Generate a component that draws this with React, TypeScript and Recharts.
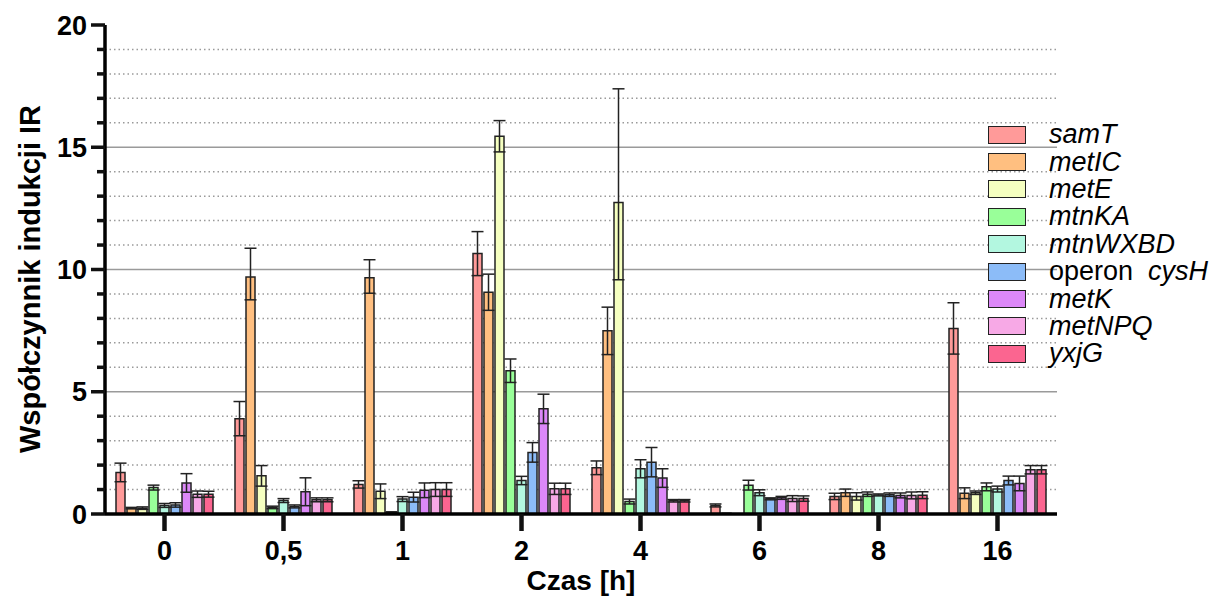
import React from 'react';
import { BarChart, Bar, XAxis, YAxis, CartesianGrid, ErrorBar, Label } from 'recharts';

const categories = ['0', '0,5', '1', '2', '4', '6', '8', '16'];

const samT = [1.7, 3.9, 1.21, 10.65, 1.89, 0.35, 0.72, 7.59];
const samTErr = [0.38, 0.7, 0.15, 0.9, 0.28, 0.06, 0.13, 1.05];
const metIC = [0.24, 9.69, 9.66, 9.07, 7.49, 0.03, 0.87, 0.85];
const metICErr = [0.03, [0.93, 1.18], [0.63, 0.74], 0.74, 0.97, 0, 0.15, 0.22];
const metE = [0.24, 1.56, 0.93, 15.45, 12.74, 0, 0.72, 0.87];
const metEErr = [0.05, 0.42, 0.3, 0.64, [3.16, 4.65], 0, 0.15, 0.07];
const mtnKA = [1.08, 0.27, 0.07, 5.86, 0.51, 1.18, 0.81, 1.11];
const mtnKAErr = [0.1, 0.05, 0.02, 0.48, 0.1, 0.2, 0.09, 0.16];
const mtnWXBD = [0.35, 0.55, 0.61, 1.37, 1.85, 0.87, 0.78, 1.02];
const mtnWXBDErr = [0.08, 0.08, 0.1, 0.17, 0.37, 0.12, 0.04, 0.12];
const cysH = [0.37, 0.31, 0.69, 2.52, 2.12, 0.62, 0.79, 1.37];
const cysHErr = [0.09, 0.06, 0.2, 0.4, 0.6, 0.04, 0.07, 0.18];
const metK = [1.27, 0.91, 0.97, 4.3, 1.47, 0.66, 0.76, 1.25];
const metKErr = [0.38, 0.57, 0.3, 0.6, 0.38, 0.06, 0.1, 0.3];
const metNPQ = [0.81, 0.58, 1.0, 1.03, 0.54, 0.63, 0.76, 1.81];
const metNPQErr = [0.13, 0.08, 0.28, 0.23, 0.05, 0.12, 0.14, 0.17];
const yxjG = [0.81, 0.58, 1.0, 1.03, 0.54, 0.63, 0.77, 1.81];
const yxjGErr = [0.12, 0.08, 0.28, 0.23, 0.05, 0.11, 0.14, 0.17];

const yTicks = [0, 1, 2, 3, 4, 5, 6, 7, 8, 9, 10, 11, 12, 13, 14, 15, 16, 17, 18, 19, 20];
const majorGrid = [5, 10, 15];
const minorGrid = [1, 2, 3, 4, 6, 7, 8, 9, 11, 12, 13, 14, 16, 17, 18, 19];

const series = [
  { key: 'samT', label: 'samT', color: '#ff9a99', values: samT, errors: samTErr },
  { key: 'metIC', label: 'metIC', color: '#ffbf80', values: metIC, errors: metICErr },
  { key: 'metE', label: 'metE', color: '#f5ffc0', values: metE, errors: metEErr },
  { key: 'mtnKA', label: 'mtnKA', color: '#99ff99', values: mtnKA, errors: mtnKAErr },
  { key: 'mtnWXBD', label: 'mtnWXBD', color: '#b3f7e0', values: mtnWXBD, errors: mtnWXBDErr },
  { key: 'cysH', label: 'operon cysH', color: '#8cbcf8', values: cysH, errors: cysHErr },
  { key: 'metK', label: 'metK', color: '#dc88f8', values: metK, errors: metKErr },
  { key: 'metNPQ', label: 'metNPQ', color: '#f7a9e6', values: metNPQ, errors: metNPQErr },
  { key: 'yxjG', label: 'yxjG', color: '#fb6590', values: yxjG, errors: yxjGErr },
];

const data = categories.map((cat, i) => {
  const row: any = { cat };
  series.forEach((s) => {
    row[s.key] = s.values[i];
    row[s.key + 'Err'] = s.errors[i];
  });
  return row;
});

const FONT = '"Liberation Sans", Arial, sans-serif';

const YTick = (props: any) => {
  const x = Number(props.x);
  const y = Number(props.y);
  const v = props.payload.value;
  const major = v % 5 === 0;
  const len = major ? 14 : 8;
  return (
    <g>
      <rect x={x - len} y={y - 1.75} width={len} height={3.5} fill="#111" />
      {major && (
        <text x={x - 18} y={y} dy="0.36em" textAnchor="end" fontSize={27} fontWeight="bold" fill="#000" fontFamily={FONT}>
          {v}
        </text>
      )}
    </g>
  );
};

const XTick = (props: any) => {
  const x = Number(props.x);
  const y = Number(props.y);
  return (
    <text x={x} y={y + 29} textAnchor="middle" fontSize={27} fontWeight="bold" fill="#000" fontFamily={FONT}>
      {props.payload.value}
    </text>
  );
};

const LegendBox = () => (
  <div style={{ position: 'absolute', left: 988, top: 121, fontFamily: FONT }}>
    {series.map((s) => (
      <div key={s.key} style={{ display: 'flex', alignItems: 'center', height: 27.4 }}>
        <div style={{ width: 36, height: 16, background: s.color, border: '1.5px solid #222' }} />
        <span style={{ marginLeft: 23, fontSize: 27, lineHeight: '27px', color: '#000' }}>
          {s.key === 'cysH' ? (
            <>
              operon&nbsp;&nbsp;<i>cysH</i>
            </>
          ) : (
            <i>{s.label}</i>
          )}
        </span>
      </div>
    ))}
  </div>
);

export default function App() {
  return (
    <div style={{ position: 'fixed', left: 0, top: 0, width: 1217, height: 596, background: '#fff', fontFamily: FONT }}>
      <BarChart
        width={1217}
        height={596}
        data={data}
        margin={{ top: 25, right: 160, bottom: 0, left: 0 }}
        barCategoryGap={11}
        barGap={2}
      >
        <CartesianGrid
          vertical={false}
          horizontalValues={minorGrid}
          stroke="#9a9a9a"
          strokeWidth={1.5}
          strokeDasharray="1.5 3"
        />
        <CartesianGrid vertical={false} horizontalValues={majorGrid} stroke="#9a9a9a" strokeWidth={1.5} />
        <XAxis
          dataKey="cat"
          height={82}
          axisLine={{ stroke: '#000', strokeWidth: 3.5 }}
          tickLine={{ stroke: '#111', strokeWidth: 4.5 }}
          tickSize={17}
          tickMargin={0}
          tick={<XTick />}
          interval={0}
        >
          <Label
            content={() => (
              <text x={581} y={590} textAnchor="middle" fontSize={28} fontWeight="bold" fill="#000" fontFamily={FONT}>
                Czas [h]
              </text>
            )}
          />
        </XAxis>
        <YAxis
          width={105}
          domain={[0, 20]}
          ticks={yTicks}
          interval={0}
          axisLine={{ stroke: '#000', strokeWidth: 3.5 }}
          tickLine={false}
          tickSize={0}
          tickMargin={0}
          tick={<YTick />}
        >
          <Label
            content={() => (
              <text
                x={30}
                y={279}
                transform="rotate(-90 30 279)"
                dy="0.36em"
                textAnchor="middle"
                fontSize={29}
                fontWeight="bold"
                fill="#000"
                fontFamily={FONT}
              >
                Współczynnik indukcji IR
              </text>
            )}
          />
        </YAxis>
        {series.map((s) => (
          <Bar key={s.key} dataKey={s.key} fill={s.color} stroke="#222" strokeWidth={1.5} isAnimationActive={false}>
            <ErrorBar dataKey={s.key + 'Err'} width={6} stroke="#222" strokeWidth={1.5} direction="y" isAnimationActive={false} />
          </Bar>
        ))}
      </BarChart>
      <LegendBox />
    </div>
  );
}
